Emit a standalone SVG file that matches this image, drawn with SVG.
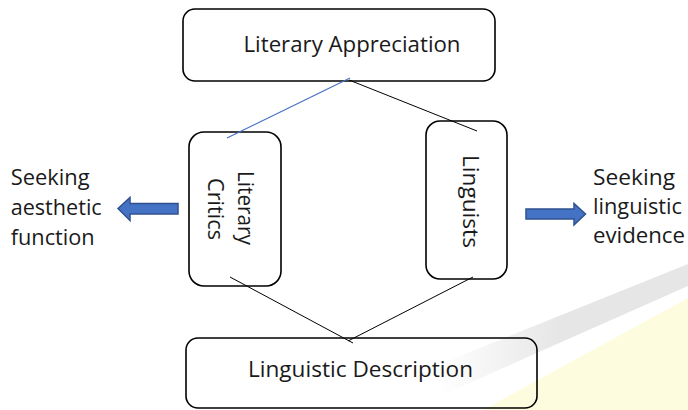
<svg xmlns="http://www.w3.org/2000/svg" width="688" height="410" viewBox="0 0 688 410">
<style>
.box{fill:#fff;stroke:#000;stroke-width:1.6}
.t{font-family:"Open Sans","Noto Sans","DejaVu Sans",sans-serif;font-size:22px;fill:#1a1a1a}
.s{font-size:21.5px}
.con{stroke:#000;stroke-width:1;fill:none}
.blk{fill:#4472C4;stroke:#2F528F;stroke-width:1.5}
</style>
<defs>
<linearGradient id="fade" x1="440" y1="0" x2="560" y2="0" gradientUnits="userSpaceOnUse">
<stop offset="0" stop-color="#e6e6e6" stop-opacity="0"/>
<stop offset="1" stop-color="#e6e6e6" stop-opacity="1"/>
</linearGradient>
</defs>
<rect width="688" height="410" fill="#fff"/>
<g id="literary-appreciation">
<rect class="box" x="183" y="9" width="312" height="72" rx="12"/>
<text class="t" x="243.5" y="52.3" textLength="217" lengthAdjust="spacingAndGlyphs">Literary Appreciation</text>
</g>
<g id="literary-critics">
<rect class="box" x="189" y="132" width="92" height="154" rx="15"/>
<text class="t s" transform="translate(238.3,171) rotate(90)" textLength="74" lengthAdjust="spacingAndGlyphs">Literary</text>
<text class="t s" transform="translate(208,178) rotate(90)" textLength="62" lengthAdjust="spacingAndGlyphs">Critics</text>
</g>
<g id="linguists">
<rect class="box" x="426" y="121" width="81" height="158" rx="14"/>
<text class="t" transform="translate(463.3,155) rotate(90)" textLength="93" lengthAdjust="spacingAndGlyphs">Linguists</text>
</g>
<g id="watermark">
<polygon points="483,410 688,298 688,410" fill="#fefcdf"/>
<polygon points="440,364 688,264 688,286 440,396" fill="url(#fade)"/>
</g>
<g id="linguistic-description">
<rect x="186" y="338" width="351" height="70" rx="12" fill="none" stroke="#000" stroke-width="1.6"/>
<text class="t" x="248" y="377" textLength="225" lengthAdjust="spacingAndGlyphs">Linguistic Description</text>
</g>
<g id="connectors">
<line x1="350" y1="78" x2="227" y2="138" stroke="#4472C4" stroke-width="1.2"/>
<line class="con" x1="349" y1="80" x2="477" y2="131"/>
<line class="con" x1="230" y1="277" x2="353" y2="343"/>
<line class="con" x1="473" y1="277" x2="348" y2="341"/>
</g>
<g id="left-label">
<text class="t s" x="10.7" y="185" textLength="79" lengthAdjust="spacingAndGlyphs">Seeking</text>
<text class="t s" x="10.7" y="215" textLength="91" lengthAdjust="spacingAndGlyphs">aesthetic</text>
<text class="t s" x="10.7" y="245" textLength="84" lengthAdjust="spacingAndGlyphs">function</text>
<polygon class="blk" points="118,208.5 130,197.5 130,203.5 178,203.5 178,214 130,214 130,220.5"/>
</g>
<g id="right-label">
<text class="t s" x="593" y="185" textLength="82" lengthAdjust="spacingAndGlyphs">Seeking</text>
<text class="t s" x="593" y="214" textLength="89" lengthAdjust="spacingAndGlyphs">linguistic</text>
<text class="t s" x="593" y="243" textLength="92" lengthAdjust="spacingAndGlyphs">evidence</text>
<polygon class="blk" points="526,209 574,209 574,203.5 585.5,214 574,225 574,219 526,219"/>
</g>
</svg>
